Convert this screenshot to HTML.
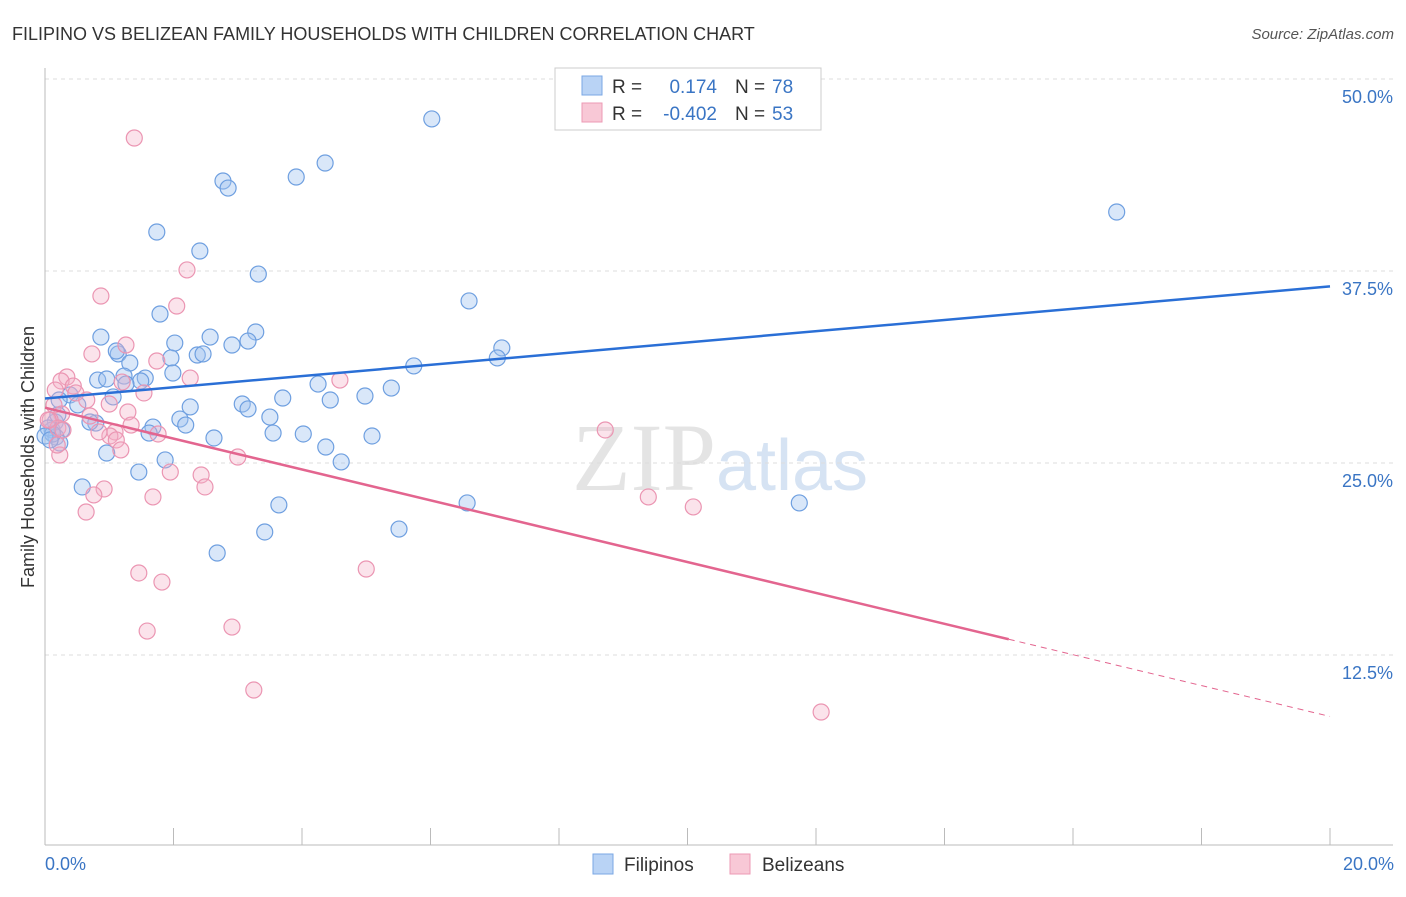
<!DOCTYPE html>
<html><head><meta charset="utf-8"><style>
body{margin:0;background:#fff;font-family:"Liberation Sans",sans-serif}
</style></head><body>
<svg id="chart" width="1406" height="892" xmlns="http://www.w3.org/2000/svg" font-family="Liberation Sans, sans-serif">
<text x="12" y="40" font-size="18" fill="#333">FILIPINO VS BELIZEAN FAMILY HOUSEHOLDS WITH CHILDREN CORRELATION CHART</text>
<text x="1394" y="39" font-size="15" fill="#555" font-style="italic" text-anchor="end">Source: ZipAtlas.com</text>
<text x="720" y="490" font-size="96" fill="#e4e4e4" text-anchor="middle" font-family="Liberation Serif, serif">ZIP<tspan fill="#d6e3f3" font-family="Liberation Sans, sans-serif" font-size="72">atlas</tspan></text>
<g id="grid"></g>
<g id="axes"></g>
<g id="points"></g>
<g id="lines"></g>
<text transform="translate(34,457) rotate(-90)" font-size="18" fill="#333" text-anchor="middle">Family Households with Children</text>
<text x="45" y="870" font-size="18" fill="#3a75c4">0.0%</text>
<text x="1394" y="870" font-size="18" fill="#3a75c4" text-anchor="end">20.0%</text>
<g>
<rect x="555" y="68" width="266" height="62" fill="#fff" stroke="#ccc"/>
<rect x="582" y="76" width="20" height="19" fill="#b9d3f5" stroke="#7aa7e4"/>
<rect x="582" y="103" width="20" height="19" fill="#f8c8d6" stroke="#ec9ab4"/>
<text x="612" y="93" font-size="19" fill="#333">R =</text>
<text x="717" y="93" font-size="19" fill="#3a75c4" text-anchor="end">0.174</text>
<text x="735" y="93" font-size="19" fill="#333">N =</text>
<text x="772" y="93" font-size="19" fill="#3a75c4">78</text>
<text x="612" y="120" font-size="19" fill="#333">R =</text>
<text x="717" y="120" font-size="19" fill="#3a75c4" text-anchor="end">-0.402</text>
<text x="735" y="120" font-size="19" fill="#333">N =</text>
<text x="772" y="120" font-size="19" fill="#3a75c4">53</text>
</g>
<g>
<rect x="593" y="854" width="20" height="20" fill="#b9d3f5" stroke="#7aa7e4"/>
<text x="624" y="871" font-size="19" fill="#333">Filipinos</text>
<rect x="730" y="854" width="20" height="20" fill="#f8c8d6" stroke="#ec9ab4"/>
<text x="762" y="871" font-size="19" fill="#333">Belizeans</text>
</g>
</svg>
<script>
const blueX=[6.02,4.36,3.91,2.77,2.85,16.68,1.74,2.41,3.32,6.60,1.79,0.87,2.57,3.28,3.16,2.91,2.02,1.14,2.37,1.96,1.11,2.46,1.32,5.74,7.11,7.04,1.99,0.82,0.96,1.23,1.56,1.49,1.26,4.25,5.39,4.98,3.70,4.44,1.06,0.39,0.22,0.51,2.26,3.07,3.16,3.50,2.10,2.19,0.79,0.70,1.68,1.62,0.16,0.11,0.26,0.17,0.23,3.55,4.02,5.09,2.63,4.37,4.61,0.96,1.87,1.46,0.58,3.64,6.57,11.74,5.51,3.42,2.68,0.05,0.12,0.00,0.08,0.20];
const blueY=[47.40,44.53,43.62,43.36,42.90,41.34,40.04,38.80,37.30,35.55,34.70,33.20,33.20,33.53,32.94,32.68,32.81,32.10,32.03,31.84,32.29,32.10,31.51,31.32,32.49,31.84,30.86,30.40,30.47,30.66,30.53,30.34,30.14,30.14,29.88,29.36,29.23,29.10,29.30,29.43,29.10,28.78,28.65,28.84,28.52,27.99,27.86,27.47,27.60,27.67,27.34,26.95,27.67,27.15,27.15,26.69,26.30,26.95,26.89,26.76,26.63,26.04,25.07,25.65,25.20,24.41,23.44,22.27,22.40,22.40,20.70,20.51,19.14,27.28,26.89,26.76,26.50,28.13];
const pinkX=[1.39,2.21,0.87,2.05,1.26,0.73,1.74,2.26,4.59,0.34,0.25,0.44,0.16,0.48,0.65,1.20,1.54,1.00,1.29,0.14,0.70,0.26,0.08,1.34,1.09,1.01,1.76,1.11,0.84,0.20,0.28,1.18,3.00,0.23,1.95,2.43,2.49,0.92,0.76,1.68,0.64,8.72,9.39,10.09,1.46,1.82,5.00,1.59,2.91,3.25,12.08,0.19,0.05];
const pinkY=[46.16,37.57,35.87,35.22,32.68,32.10,31.64,30.53,30.40,30.60,30.34,30.01,29.75,29.56,29.10,30.27,29.56,28.84,28.32,28.78,28.06,28.19,27.80,27.47,27.02,26.76,26.89,26.50,27.02,27.28,27.15,25.85,25.39,25.52,24.41,24.22,23.44,23.31,22.92,22.79,21.81,27.15,22.79,22.14,17.84,17.25,18.10,14.06,14.32,10.22,8.79,26.17,27.80];
const yTicks=[12.5,25,37.5,50];
const yTickLabels=["12.5%","25.0%","37.5%","50.0%"];
const xTicks=[0,2,4,6,8,10,12,14,16,18,20];
const blueLine=[29.2,36.5];   // values at x=0 and x=20
const pinkLine=[28.6,8.5];    // values at x=0 and x=20
const pinkSolidEnd=15;
const NS="http://www.w3.org/2000/svg";
const sx=v=>45+v*64.25, sy=v=>79+(50-v)*15.36;
function mk(parent,tag,attrs){const e=document.createElementNS(NS,tag);for(const k in attrs)e.setAttribute(k,attrs[k]);document.getElementById(parent).appendChild(e);return e;}
yTicks.forEach((t,i)=>{
 const l=mk('grid','line',{x1:45,x2:1393,y1:sy(t),y2:sy(t),stroke:'#ddd','stroke-dasharray':'4,4'});
 
 
 const tx=mk('grid','text',{x:1393,y:sy(t)+24,'font-size':18,fill:'#3a75c4','text-anchor':'end'});
 tx.textContent=yTickLabels[i];
 
 
});
const ax=mk('axes','line',{x1:45,x2:1393,y1:845,y2:845,stroke:'#bbb'});


const ay=mk('axes','line',{x1:45,x2:45,y1:68,y2:845,stroke:'#bbb'});


xTicks.forEach(t=>{const l=mk('axes','line',{x1:sx(t),x2:sx(t),y1:828,y2:845,stroke:'#bbb'});
 
 });
blueX.forEach((x,i)=>{const c=mk('points','circle',{cx:sx(x),cy:sy(blueY[i]),r:8,fill:'rgba(160,196,240,0.4)',stroke:'#6e9fe0','stroke-width':1.2});
 
 });
pinkX.forEach((x,i)=>{const c=mk('points','circle',{cx:sx(x),cy:sy(pinkY[i]),r:8,fill:'rgba(244,176,198,0.35)',stroke:'#eb95b2','stroke-width':1.2});
 
 });
const bl=mk('lines','line',{x1:sx(0),y1:sy(blueLine[0]),x2:sx(20),y2:sy(blueLine[1]),stroke:'#2a6fd6','stroke-width':2.5});


const pv=x=>pinkLine[0]+(pinkLine[1]-pinkLine[0])*x/20;
const pl=mk('lines','line',{x1:sx(0),y1:sy(pinkLine[0]),x2:sx(pinkSolidEnd),y2:sy(pv(pinkSolidEnd)),stroke:'#e3658f','stroke-width':2.5});


const pd=mk('lines','line',{x1:sx(pinkSolidEnd),y1:sy(pv(pinkSolidEnd)),x2:sx(20),y2:sy(pinkLine[1]),stroke:'#e3658f','stroke-width':1,'stroke-dasharray':'6,5'});


</script>
</body></html>
